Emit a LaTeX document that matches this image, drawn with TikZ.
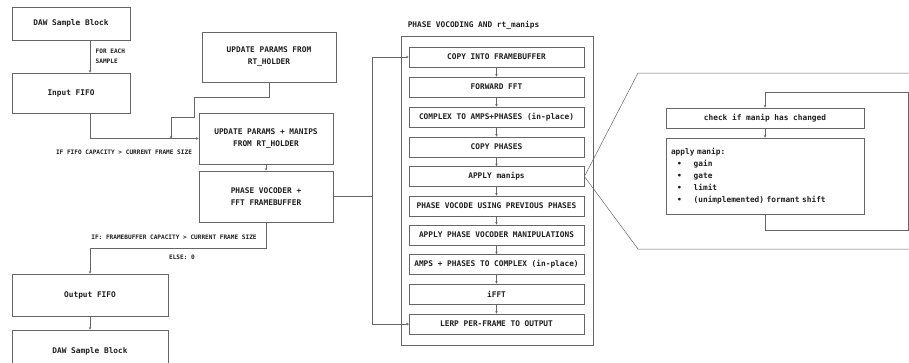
\documentclass[tikz,border=0pt]{standalone}
\usepackage{fontspec}
\setmonofont{DejaVu Sans Mono}
\usetikzlibrary{arrows.meta}
\usepackage{xcolor}

\definecolor{wire}{gray}{0.4}
\definecolor{ink}{gray}{0.12}

\newcommand{\manipitem}[1]{\hspace*{6pt}•\hspace*{12pt}#1}

\begin{document}
\begin{tikzpicture}[x=1pt,y=-1pt,>={Stealth[length=2.5pt,width=2.5pt]},
  every node/.style={text=ink,font=\ttfamily\bfseries\fontsize{7.8}{12}\selectfont},
  block/.style={draw=wire,line width=0.8pt,fill=white,align=center,inner sep=0pt},
  stage/.style={block,minimum width=175pt,minimum height=20pt},
  note/.style={font=\ttfamily\bfseries\fontsize{6.1}{10}\selectfont,align=left},
  wire/.style={draw=wire,line width=0.7pt}]
\useasboundingbox (0,0) rectangle (909,362);

  % host side
  \node[block,minimum width=118pt,minimum height=33pt] (dawin) at (71,23.5) {DAW Sample Block};
  \node[block,minimum width=118pt,minimum height=40pt] (infifo) at (71,93) {Input FIFO};
  \node[block,minimum width=134pt,minimum height=50pt] (rtread) at (269,57) {UPDATE PARAMS FROM\\RT\_HOLDER};
  \node[block,minimum width=134pt,minimum height=51pt] (update) at (266,138.5) {UPDATE PARAMS + MANIPS\\FROM RT\_HOLDER};
  \node[block,minimum width=134pt,minimum height=51pt] (vocoder) at (266,196.5) {PHASE VOCODER +\\FFT FRAMEBUFFER};
  \node[block,minimum width=156pt,minimum height=42pt] (outfifo) at (90,295) {Output FIFO};
  \node[block,minimum width=156pt,minimum height=42pt] (dawout) at (90,351) {DAW Sample Block};

  \draw[wire,->] (dawin.south -| outfifo.north) -- node[note,right,xshift=2pt]{FOR EACH\\SAMPLE} (infifo.north -| outfifo.north);
  \draw[wire,->] (infifo.south -| outfifo.north) |- (update.west);
  \node[note] (fifocond) at (124,152) {IF FIFO CAPACITY > CURRENT FRAME SIZE};

  \coordinate (merge) at (171,138.5);
  \draw[wire,->] (rtread.south) |- (194,97) |- (171,117) -- (merge);

  \draw[wire,->] (update.south) -- (vocoder.north);
  \draw[wire,->] (vocoder.south) -- (266,248) -| (outfifo.north);
  \node[note] (fbcond) at (174,237) {IF: FRAMEBUFFER CAPACITY > CURRENT FRAME SIZE};
  \node[note] (fbelse) at (182,257) {ELSE: 0};
  \draw[wire,->] (outfifo.south) -- (dawout.north);

  % phase vocoding chain
  \node (chaintitle) at (473.5,25) {PHASE VOCODING AND rt\_manips};
  \draw[wire] (401,36) rectangle (593,345);

  \node[stage] (copy)    at (496.5,57)    {COPY INTO FRAMEBUFFER};
  \node[stage] (fft)     at (496.5,87)    {FORWARD FFT};
  \node[stage] (topolar) at (496.5,117)   {COMPLEX TO AMPS+PHASES (in-place)};
  \node[stage] (phases)  at (496.5,147)   {COPY PHASES};
  \node[stage] (manips)  at (496.5,176.5) {APPLY manips};
  \node[stage] (pvuse)   at (496.5,206)   {PHASE VOCODE USING PREVIOUS PHASES};
  \node[stage] (pvmanip) at (496.5,235)   {APPLY PHASE VOCODER MANIPULATIONS};
  \node[stage] (torect)  at (496.5,264.5) {AMPS + PHASES TO COMPLEX (in-place)};
  \node[stage] (ifft)    at (496.5,294)   {iFFT};
  \node[stage] (lerp)    at (496.5,324)   {LERP PER-FRAME TO OUTPUT};

  \foreach \a/\b in {copy/fft,fft/topolar,topolar/phases,phases/manips,manips/pvuse,
                     pvuse/pvmanip,pvmanip/torect,torect/ifft,ifft/lerp}
    \draw[wire,->] (\a.south) -- (\b.north);

  \coordinate (split) at (372,196.5);
  \draw[wire] (vocoder.east) -- (split);
  \draw[wire,->] (split) |- (copy.west);
  \draw[wire,-{Circle[open,length=2.5pt]}] (split) |- (lerp.west);

  % manip detail
  \draw[wire,line width=0.5pt] (manips.east) -- (638,73) -- (912,73);
  \draw[wire,line width=0.5pt] (manips.east) -- (638,249) -- (912,249);

  \node[block,minimum width=198pt,minimum height=20pt] (check) at (765,118) {check if manip has changed};
  \node[block,minimum height=76pt,text width=188pt,inner xsep=5pt,align=left] (apply) at (765,176)
    {apply manip:\\\manipitem{gain}\\\manipitem{gate}\\\manipitem{limit}\\\manipitem{(unimplemented) formant shift}};
  \draw[wire,->] (check.south) -- (apply.north);
  \draw[wire,->] (apply.south) |- (908,230) |- (765,92) -- (check.north);
\end{tikzpicture}
\end{document}
